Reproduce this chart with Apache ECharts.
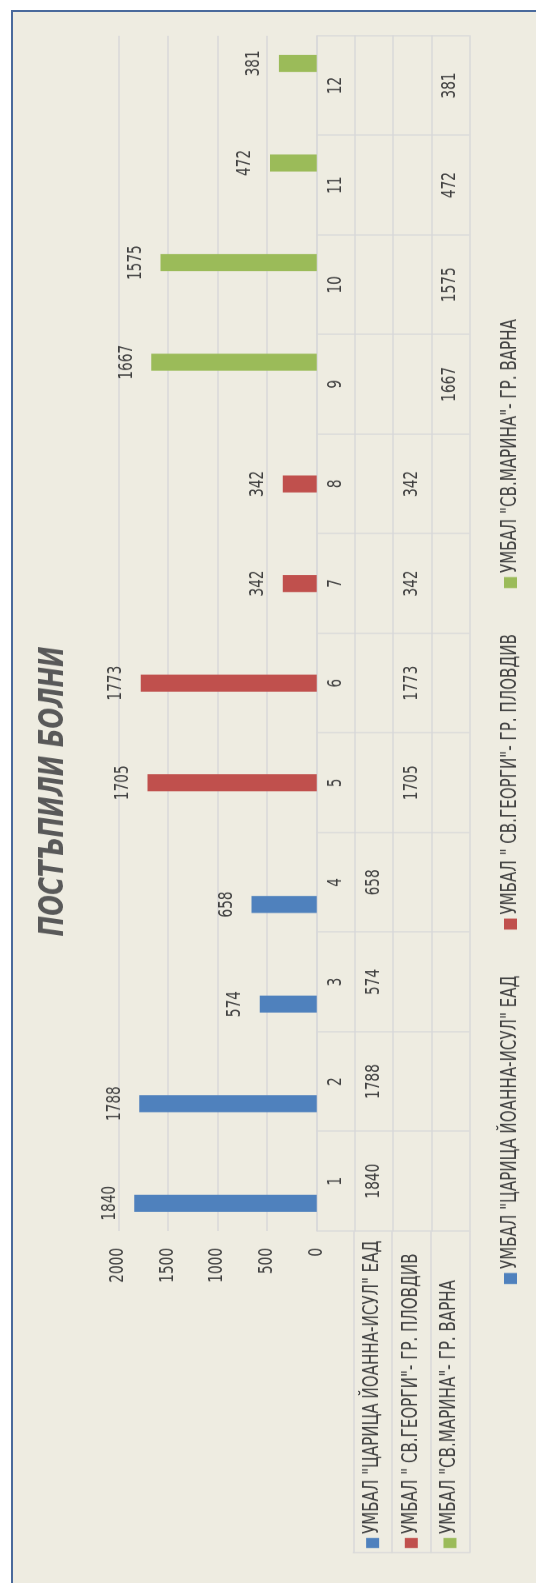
<!DOCTYPE html>
<html>
<head>
<meta charset="utf-8">
<script src="https://cdn.jsdelivr.net/npm/echarts@6/dist/echarts.min.js"></script>
<style>
  html, body { margin: 0; padding: 0; background: #ffffff; width: 536px; height: 1583px; overflow: hidden; }
  #frame {
    position: absolute; left: 11px; top: 10px; width: 540px; height: 1590px;
    background: #EEECE1; border-left: 2px solid #4A6A9C; border-top: 2px solid #4A6A9C;
  }
  /* the source is a landscape chart turned a quarter to the left and squeezed along its width */
  #chart {
    position: absolute; left: 0; top: 0; width: 1978.75px; height: 536px;
    transform-origin: 0 0; transform: translate(0px, 1583px) rotate(-90deg) scale(0.8, 1);
  }
</style>
</head>
<body>
<div id="frame"></div>
<div id="chart"></div>
<script>
let titleText = 'ПОСТЪПИЛИ БОЛНИ'
let categories = ['1', '2', '3', '4', '5', '6', '7', '8', '9', '10', '11', '12']
let seriesNames = [
  'УМБАЛ "ЦАРИЦА ЙОАННА-ИСУЛ" ЕАД',
  'УМБАЛ " СВ.ГЕОРГИ"- ГР. ПЛОВДИВ',
  'УМБАЛ "СВ.МАРИНА"- ГР. ВАРНА'
]
let sofia = [1840, 1788, 574, 658, null, null, null, null, null, null, null, null]
let plovdiv = [null, null, null, null, 1705, 1773, 342, 342, null, null, null, null]
let varna = [null, null, null, null, null, null, null, null, 1667, 1575, 472, 381]
let valueTicks = { min: 0, max: 2000, interval: 500 }
let colors = ['#4F81BD', '#C0504D', '#9BBB59']

let S = 0.8 // horizontal squeeze, see the css
let FONT = '"DejaVu Sans Condensed", "Liberation Sans", sans-serif'
let TXT = '#404040'
let LINE = '#D9D9D9'
let ROW = 38.2

let chart = echarts.init(document.getElementById('chart'), null, { renderer: 'canvas' })
let allSeries = [sofia, plovdiv, varna]

// data table rows under the plot: one category axis per row
function tableAxis(data, k, last) {
  return {
    type: 'category', gridIndex: 0, position: 'bottom', offset: k * ROW,
    data: data,
    axisLine: { show: true, lineStyle: { color: LINE, width: 1.5 } },
    axisTick: { show: !last, length: ROW, interval: 0, lineStyle: { color: LINE, width: 1.5 } },
    axisLabel: {
      show: !last, interval: 0, margin: ROW / 2, verticalAlign: 'middle',
      fontFamily: FONT, fontSize: 19, color: TXT
    }
  }
}
let xAxes = [{
  type: 'category', gridIndex: 0, data: categories,
  axisLine: { show: false }, axisTick: { show: false }, axisLabel: { show: false }
}]
xAxes.push(tableAxis(categories, 0, false))
allSeries.forEach(function (s, i) {
  xAxes.push(tableAxis(s.map(function (v) { return v == null ? '' : String(v) }), i + 1, false))
})
xAxes.push(tableAxis(categories, 4, true))
xAxes.push({ type: 'value', gridIndex: 1, show: false })

let rich = {}
colors.forEach(function (c, i) {
  rich['m' + i] = { backgroundColor: c, width: 10 / S, height: 13 }
})
rich.t = { fontFamily: FONT, fontSize: 21, color: TXT, padding: [0, 0, 0, 4 / S] }

option = {
  animation: false,
  backgroundColor: 'transparent',
  color: colors,
  textStyle: { fontFamily: FONT },
  title: {
    text: titleText, left: 'center', top: 37, padding: 0,
    textStyle: { fontFamily: FONT, fontSize: 34, fontWeight: 'bold', fontStyle: 'italic', color: '#595959' }
  },
  legend: {
    data: seriesNames, left: 295 / S, top: 495, itemGap: 46 / S,
    itemWidth: 11 / S, itemHeight: 13, icon: 'rect',
    textStyle: { fontFamily: FONT, fontSize: 21, color: TXT }
  },
  grid: [
    { left: 352 / S, top: 118.3, width: 1195.3 / S, height: 198.4 },
    { left: 30 / S, top: 353.3, width: 322 / S, height: 3 * ROW + 1.4 }
  ],
  xAxis: xAxes,
  yAxis: [{
    type: 'value', gridIndex: 0, min: valueTicks.min, max: valueTicks.max, interval: valueTicks.interval,
    axisLine: { show: false }, axisTick: { show: false },
    splitLine: { lineStyle: { color: LINE, width: 1.5 } },
    axisLabel: { fontFamily: FONT, fontSize: 19, color: TXT, margin: 17 / S, formatter: function (v) { return String(v) } }
  }, {
    type: 'category', gridIndex: 1, inverse: true, data: seriesNames,
    axisLine: { show: true, lineStyle: { color: LINE, width: 1.5 } },
    axisTick: { show: false },
    splitLine: { show: true, lineStyle: { color: LINE, width: 1.5 } },
    axisLabel: {
      inside: true, margin: 5 / S, align: 'left', fontFamily: FONT, fontSize: 21, color: TXT,
      formatter: function (v, i) { return '{m' + i + '|}{t|' + v + '}' },
      rich: rich
    }
  }],
  series: allSeries.map(function (s, i) {
    return {
      name: seriesNames[i], type: 'bar', xAxisIndex: 0, yAxisIndex: 0,
      data: s, barWidth: 17 / S, barGap: '30%',
      label: { show: true, position: 'top', distance: 15, fontFamily: FONT, fontSize: 19, color: TXT }
    }
  })
}
chart.setOption(option)
</script>
</body>
</html>
